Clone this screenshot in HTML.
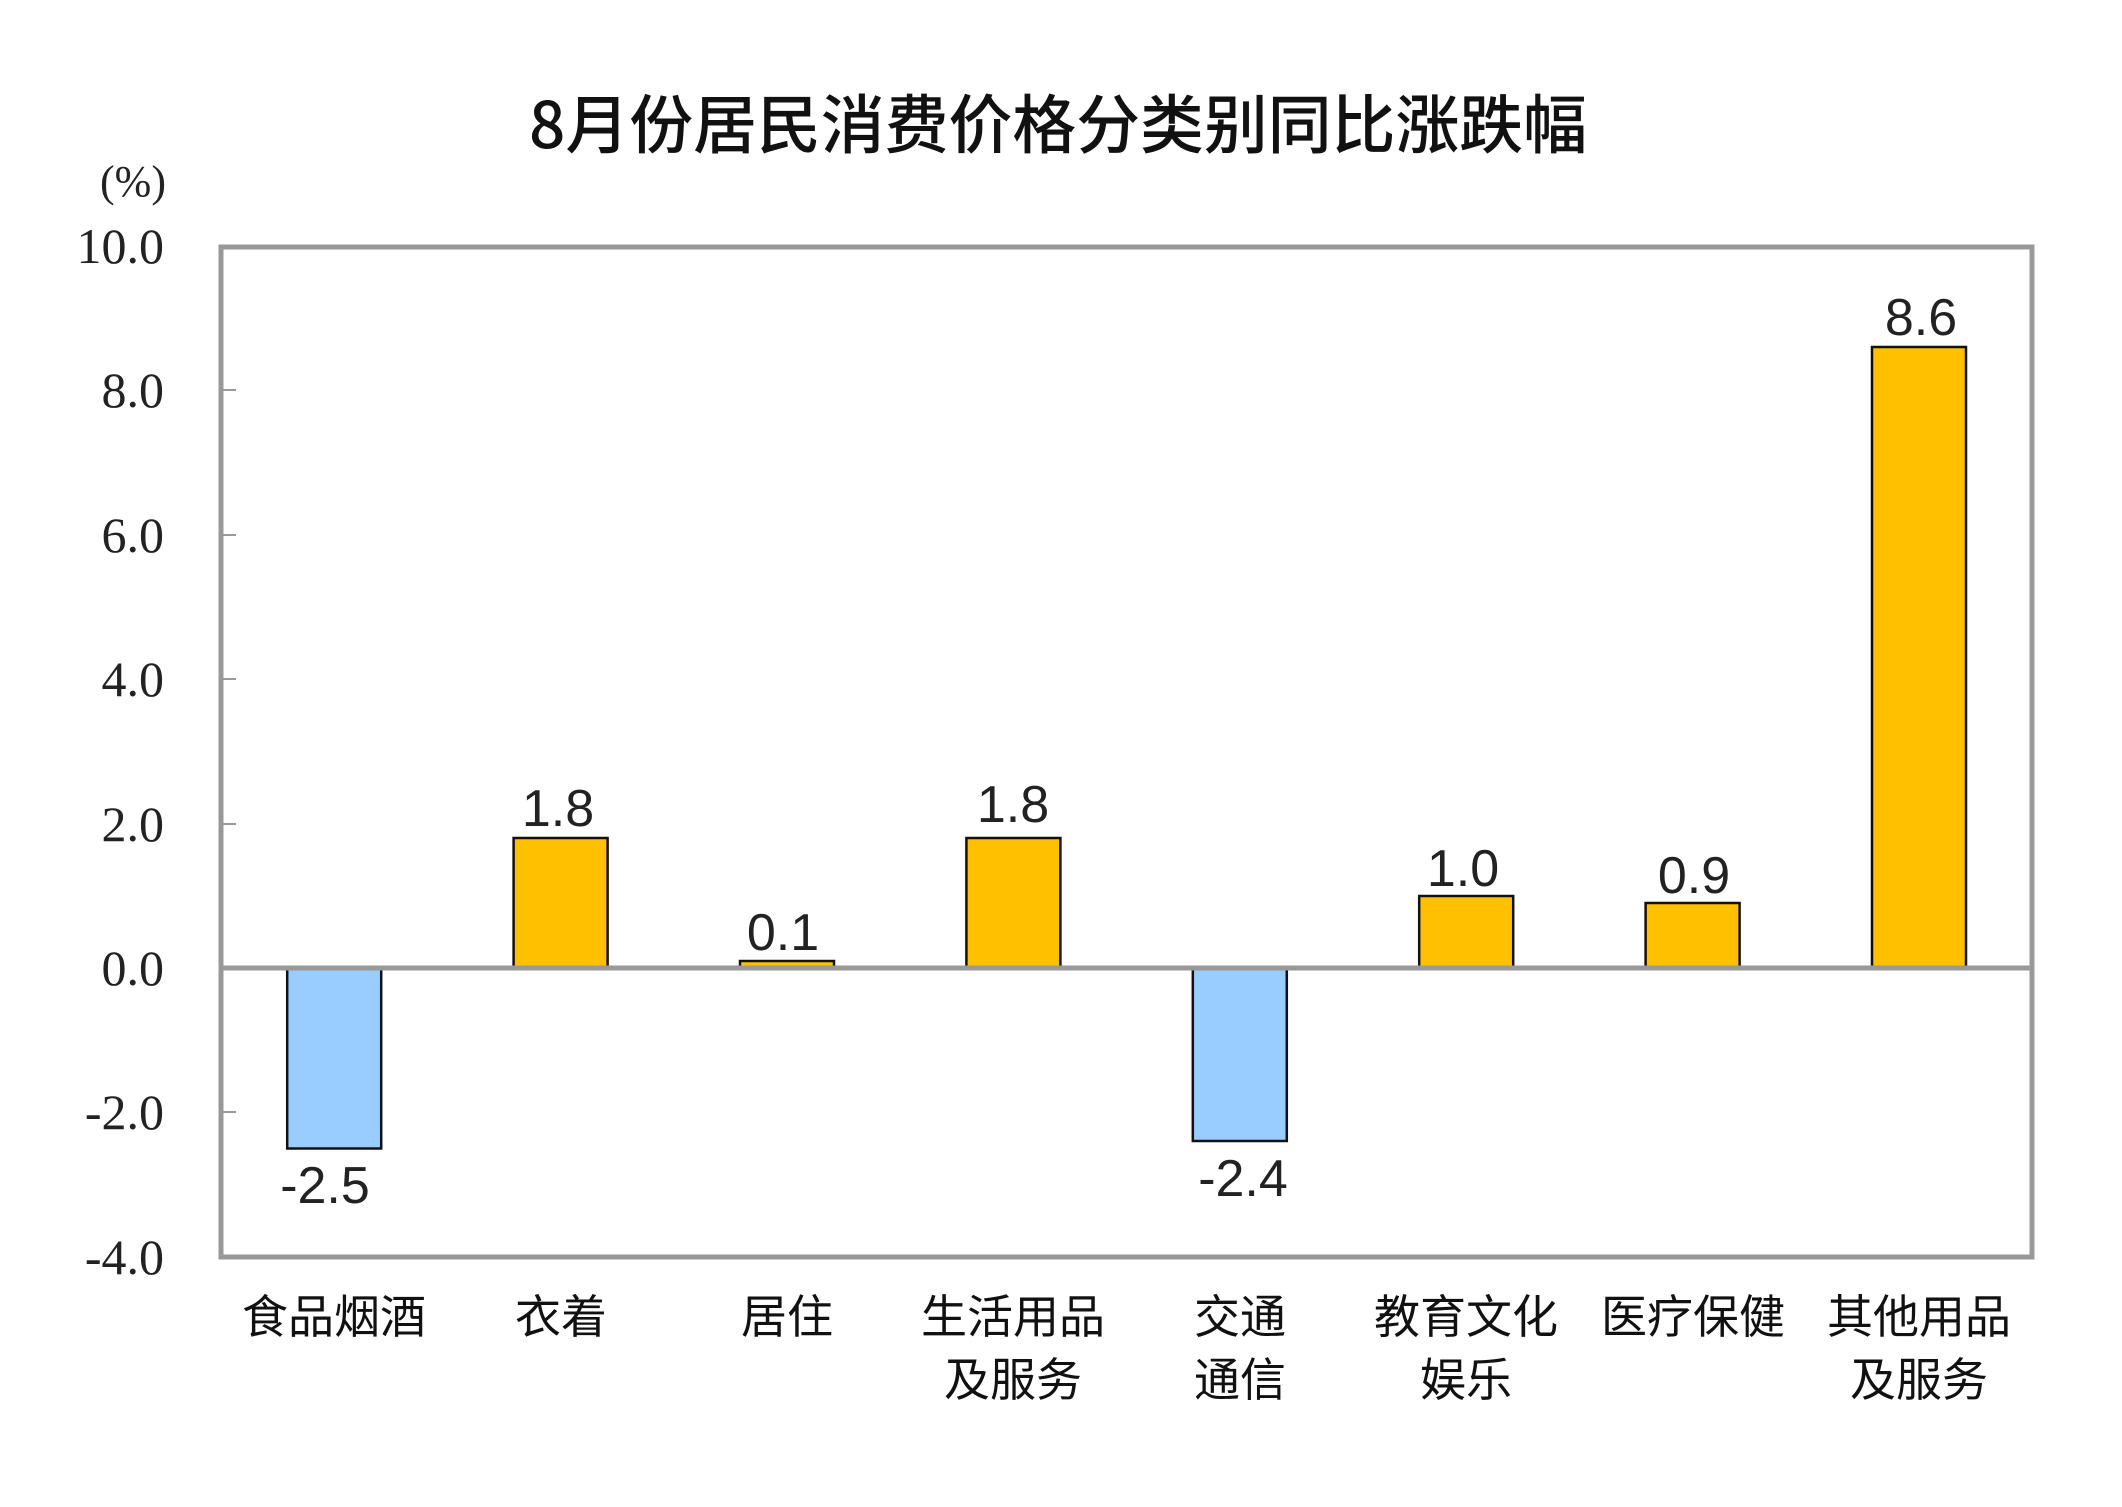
<!DOCTYPE html>
<html><head><meta charset="utf-8"><style>
html,body{margin:0;padding:0;background:#fff;}
svg{display:block;}
</style></head><body>
<svg width="2122" height="1507" viewBox="0 0 2122 1507" xmlns="http://www.w3.org/2000/svg">
<rect width="2122" height="1507" fill="#fff"/>
<text x="1058" y="148" font-family="Noto Sans CJK SC, sans-serif" font-size="64" font-weight="500" text-anchor="middle" textLength="1058" lengthAdjust="spacingAndGlyphs" fill="#111">8月份居民消费价格分类别同比涨跌幅</text>
<text x="133" y="196" font-family="Liberation Serif, serif" font-size="44" text-anchor="middle" fill="#222">(%)</text>
<g font-family="Liberation Serif, serif" font-size="50" text-anchor="end" fill="#222">
<text x="164" y="263">10.0</text>
<text x="164" y="407">8.0</text>
<text x="164" y="552">6.0</text>
<text x="164" y="696">4.0</text>
<text x="164" y="841">2.0</text>
<text x="164" y="985">0.0</text>
<text x="164" y="1129">-2.0</text>
<text x="164" y="1274">-4.0</text>
</g>
<g stroke="#999" stroke-width="2">
<line x1="221" y1="390" x2="236" y2="390"/>
<line x1="221" y1="535" x2="236" y2="535"/>
<line x1="221" y1="679" x2="236" y2="679"/>
<line x1="221" y1="824" x2="236" y2="824"/>
<line x1="221" y1="1112" x2="236" y2="1112"/>
</g>
<g stroke="#111" stroke-width="2.5">
<rect x="287.2" y="968" width="94" height="180.5" fill="#99CCFF"/>
<rect x="513.6" y="838" width="94" height="130" fill="#FFC000"/>
<rect x="740" y="961" width="94" height="7" fill="#FFC000"/>
<rect x="966.4" y="838" width="94" height="130" fill="#FFC000"/>
<rect x="1192.8" y="968" width="94" height="173" fill="#99CCFF"/>
<rect x="1419.2" y="896" width="94" height="72" fill="#FFC000"/>
<rect x="1645.6" y="903" width="94" height="65" fill="#FFC000"/>
<rect x="1872" y="347" width="94" height="621" fill="#FFC000"/>
</g>
<rect x="221" y="247" width="1811" height="1010" fill="none" stroke="#999" stroke-width="5"/>
<line x1="221" y1="968" x2="2032" y2="968" stroke="#999" stroke-width="5"/>
<g font-family="Liberation Sans, sans-serif" font-size="52" text-anchor="middle" fill="#222">
<text x="325" y="1203">-2.5</text>
<text x="558" y="826">1.8</text>
<text x="783" y="950">0.1</text>
<text x="1013" y="822">1.8</text>
<text x="1243" y="1196">-2.4</text>
<text x="1463" y="886">1.0</text>
<text x="1694" y="893">0.9</text>
<text x="1921" y="335">8.6</text>
</g>
<g font-family="Liberation Sans, Noto Sans CJK SC, sans-serif" font-size="46" text-anchor="middle" fill="#111">
<text x="334" y="1333">食品烟酒</text>
<text x="561" y="1333">衣着</text>
<text x="787" y="1333">居住</text>
<text x="1013" y="1333">生活用品</text>
<text x="1013" y="1396">及服务</text>
<text x="1240" y="1333">交通</text>
<text x="1240" y="1396">通信</text>
<text x="1466" y="1333">教育文化</text>
<text x="1466" y="1396">娱乐</text>
<text x="1693" y="1333">医疗保健</text>
<text x="1919" y="1333">其他用品</text>
<text x="1919" y="1396">及服务</text>
</g>
</svg>
</body></html>
